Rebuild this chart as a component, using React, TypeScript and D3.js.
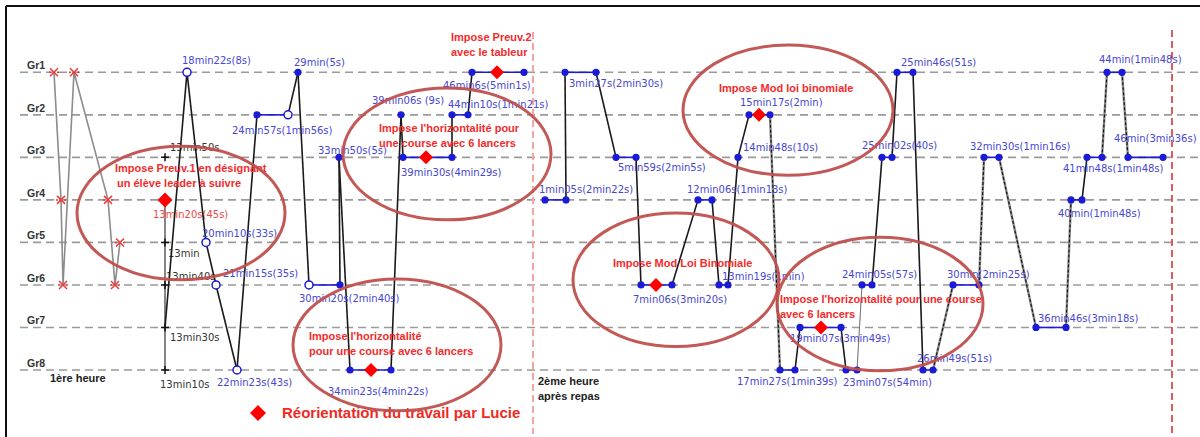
import React from "react";
import * as d3 from "d3";

// ---------- DATA ----------
const groups = ["Gr1", "Gr2", "Gr3", "Gr4", "Gr5", "Gr6", "Gr7", "Gr8"];

// first hour, gray trajectory marked with red crosses (timeline units, group)
const grayTrajX = [54, 61, 63, 74, 108, 115, 120];
const grayTrajG = ["Gr1", "Gr4", "Gr6", "Gr1", "Gr4", "Gr6", "Gr5"];

// 13 min reference axis
const refAxisX = 165;
const refTickGroups = ["Gr3", "Gr5", "Gr6", "Gr7", "Gr8"];
const refTickLabels = ["13min50s", "13min", "13min40s", "13min30s", "13min10s"];
const refDiamondGroup = "Gr4";
const refDiamondLabel = "13min20s(45s)";

type Station = { g: string; x0: number; x1: number; d?: number; m0: string; m1: string; label: string };

// first hour stations: o = open circle, f = filled dot, n = none
const hour1Stations: Station[] = [
  { g: "Gr7", x0: 165, x1: 165, m0: "n", m1: "n", label: "" },
  { g: "Gr1", x0: 187, x1: 187, m0: "o", m1: "o", label: "18min22s(8s)" },
  { g: "Gr5", x0: 206, x1: 206, m0: "o", m1: "o", label: "20min10s(33s)" },
  { g: "Gr6", x0: 216, x1: 216, m0: "o", m1: "o", label: "21min15s(35s)" },
  { g: "Gr8", x0: 237, x1: 237, m0: "o", m1: "o", label: "22min23s(43s)" },
  { g: "Gr2", x0: 257, x1: 288, m0: "f", m1: "o", label: "24min57s(1min56s)" },
  { g: "Gr1", x0: 298, x1: 298, m0: "f", m1: "f", label: "29min(5s)" },
  { g: "Gr6", x0: 309, x1: 340, m0: "o", m1: "f", label: "30min20s(2min40s)" },
  { g: "Gr3", x0: 339, x1: 339, m0: "f", m1: "f", label: "33min50s(5s)" },
  { g: "Gr8", x0: 350, x1: 391, d: 371, m0: "f", m1: "f", label: "34min23s(4min22s)" },
  { g: "Gr2", x0: 401, x1: 401, m0: "f", m1: "f", label: "39min06s (9s)" },
  { g: "Gr3", x0: 403, x1: 452, d: 426, m0: "f", m1: "f", label: "39min30s(4min29s)" },
  { g: "Gr2", x0: 452, x1: 468, m0: "f", m1: "f", label: "44min10s(1min21s)" },
  { g: "Gr1", x0: 472, x1: 524, d: 497, m0: "f", m1: "f", label: "46min6s(5min1s)" },
];

const hour2Stations: Station[] = [
  { g: "Gr4", x0: 545, x1: 566, m0: "f", m1: "f", label: "1min05s(2min22s)" },
  { g: "Gr1", x0: 565, x1: 596, m0: "f", m1: "f", label: "3min27s(2min30s)" },
  { g: "Gr3", x0: 616, x1: 636, m0: "f", m1: "f", label: "5min59s(2min5s)" },
  { g: "Gr6", x0: 641, x1: 672, d: 656, m0: "f", m1: "f", label: "7min06s(3min20s)" },
  { g: "Gr4", x0: 698, x1: 712, m0: "f", m1: "f", label: "12min06s(1min13s)" },
  { g: "Gr6", x0: 719, x1: 728, m0: "f", m1: "f", label: "13min19s(1min)" },
  { g: "Gr3", x0: 738, x1: 738, m0: "f", m1: "f", label: "14min48s(10s)" },
  { g: "Gr2", x0: 749, x1: 770, d: 759, m0: "f", m1: "f", label: "15min17s(2min)" },
  { g: "Gr8", x0: 780, x1: 795, m0: "f", m1: "f", label: "17min27s(1min39s)" },
  { g: "Gr7", x0: 800, x1: 841, d: 821, m0: "f", m1: "f", label: "19min07s(3min49s)" },
  { g: "Gr8", x0: 846, x1: 857, m0: "f", m1: "f", label: "23min07s(54min)" },
  { g: "Gr6", x0: 862, x1: 872, m0: "f", m1: "f", label: "24min05s(57s)" },
  { g: "Gr3", x0: 882, x1: 892, m0: "f", m1: "f", label: "25min02s(40s)" },
  { g: "Gr1", x0: 897, x1: 913, m0: "f", m1: "f", label: "25min46s(51s)" },
  { g: "Gr8", x0: 923, x1: 933, m0: "f", m1: "f", label: "26min49s(51s)" },
  { g: "Gr6", x0: 953, x1: 979, m0: "f", m1: "f", label: "30min(2min25s)" },
  { g: "Gr3", x0: 984, x1: 999, m0: "f", m1: "f", label: "32min30s(1min16s)" },
  { g: "Gr7", x0: 1036, x1: 1066, m0: "f", m1: "f", label: "36min46s(3min18s)" },
  { g: "Gr4", x0: 1071, x1: 1082, m0: "f", m1: "f", label: "40min(1min48s)" },
  { g: "Gr3", x0: 1087, x1: 1102, m0: "f", m1: "f", label: "41min48s(1min48s)" },
  { g: "Gr1", x0: 1107, x1: 1122, m0: "f", m1: "f", label: "44min(1min48s)" },
  { g: "Gr3", x0: 1128, x1: 1163, m0: "f", m1: "f", label: "46min(3min36s)" },
];

// annotations (Lucie's interventions)
const annotTexts = [
  ["Impose Preuv.2", "avec le tableur"],
  ["Impose Preuv.1 en désignant", "un élève leader à suivre"],
  ["Impose l'horizontalité pour", "une course avec 6 lancers"],
  ["Impose l'horizontalité", "pour une course avec 6 lancers"],
  ["Impose Mod loi binomiale"],
  ["Impose Mod Loi Binomiale"],
  ["Impose l'horizontalité pour une course", "avec 6 lancers"],
];
const sessionLabels = [["1ère heure"], ["2ème heure", "après repas"]];
const legendLabel = "Réorientation du travail par Lucie";

// ---------- LAYOUT (positions only) ----------
const hour1LabelPos: [number, number][] = [
  [0, 0], [182, -8], [202, -5], [223, -8], [217, 16], [232, 19], [294, -6],
  [299, 17], [318, -3], [328, 25], [372, -11], [401, 19], [448, -7], [443, 17],
];
const hour2LabelPos: [number, number][] = [
  [539, -7], [569, 15], [618, 14], [633, 18], [687, -7], [722, -5], [743, -6],
  [740, -9], [737, 15], [790, 15], [843, 16], [842, -7], [862, -8], [901, -6],
  [917, -8], [947, -7], [970, -7], [1038, -5], [1058, 17], [1063, 15], [1099, -9], [1114, -15],
];
// hour-2 links drawn with a dashed/doubled texture
const texturedLinks = new Set([7, 14, 15, 16, 17, 19, 20]);
const thinLinks = new Set([10]);

// annotation text anchor: [x, baseline group-index]
const annotPos: [number, number][] = [
  [451, -0.74], [115, 2.34], [379, 1.40], [309, 6.29], [719, 0.46], [613, 4.58], [780, 5.42],
];
// ellipses: [cx, cy (group index), rx, ry (group index)]
const ellipses: [number, number, number, number][] = [
  [181, 3.31, 104, 1.57], [447, 1.92, 104, 1.55], [397, 6.41, 104, 1.55],
  [788, 0.89, 105, 1.53], [676, 4.88, 103, 1.57], [880, 5.45, 103, 1.57],
];
const hourDividers = [533, 1172];

const W = 1200;
const H = 437;

export default function App() {
  const x = d3.scaleLinear().domain([0, 1200]).range([0, W]);
  const yIdx = d3.scaleLinear().domain([0, groups.length - 1]).range([72.3, 370]);
  const y = (g: string) => yIdx(groups.indexOf(g));
  const line = d3.line<[number, string]>().x((d) => x(d[0])).y((d) => y(d[1]));

  const blue = "#1b1bd6";
  const blueText = "#4646d4";
  const red = "#ff0000";
  const annotRed = "#f52b2b";
  const diamond = (s: number) => `M0,${-s}L${s},0L0,${s}L${-s},0Z`;

  const renderSeq = (st: Station[], pos: [number, number][], key: string, textured: Set<number>, thin: Set<number>) => {
    const links = st.slice(0, -1).map((s, i) => {
      const n = st[i + 1];
      const p = line([[s.x1, s.g], [n.x0, n.g]]) || "";
      if (textured.has(i)) {
        return (
          <g key={`${key}l${i}`}>
            <path d={p} stroke="#8a8a8a" strokeWidth={2.4} fill="none" />
            <path d={p} stroke="#111" strokeWidth={1.1} strokeDasharray="3 2" fill="none" />
          </g>
        );
      }
      return (
        <path key={`${key}l${i}`} d={p} stroke={thin.has(i) ? "#777" : "#1a1a1a"} strokeWidth={thin.has(i) ? 1.1 : 1.6} fill="none" />
      );
    });
    const segs = st
      .filter((s) => s.x1 > s.x0)
      .map((s, i) => (
        <line key={`${key}s${i}`} x1={x(s.x0)} x2={x(s.x1)} y1={y(s.g)} y2={y(s.g)} stroke={blue} strokeWidth={1.6} />
      ));
    const marks: JSX.Element[] = [];
    st.forEach((s, i) => {
      const ends: [number, string][] = s.x1 > s.x0 ? [[s.x0, s.m0], [s.x1, s.m1]] : [[s.x0, s.m0]];
      ends.forEach(([xx, m], j) => {
        if (m === "n") return;
        marks.push(
          m === "o" ? (
            <circle key={`${key}m${i}_${j}`} cx={x(xx)} cy={y(s.g)} r={4} fill="#fff" stroke={blue} strokeWidth={1.5} />
          ) : (
            <circle key={`${key}m${i}_${j}`} cx={x(xx)} cy={y(s.g)} r={3.6} fill={blue} />
          )
        );
      });
      if (s.d !== undefined) {
        marks.push(<path key={`${key}d${i}`} d={diamond(7)} transform={`translate(${x(s.d)},${y(s.g)})`} fill={red} />);
      }
    });
    const labels = st.map((s, i) =>
      s.label ? (
        <text key={`${key}t${i}`} x={x(pos[i][0])} y={y(s.g) + pos[i][1]} fill={blueText} fontSize={10} fontFamily="DejaVu Sans, sans-serif">
          {s.label}
        </text>
      ) : null
    );
    return { links, segs, marks, labels };
  };

  const h1 = renderSeq(hour1Stations, hour1LabelPos, "a", new Set(), new Set());
  const h2 = renderSeq(hour2Stations, hour2LabelPos, "b", texturedLinks, thinLinks);

  const grayPts: [number, string][] = grayTrajX.map((v, i) => [v, grayTrajG[i]]);

  return (
    <div>
      <style>{"body{margin:0;background:#fff}"}</style>
      <svg width={W} height={H} style={{ display: "block" }}>
        <rect x={0} y={0} width={W} height={H} fill="#fff" />
        {/* frame */}
        <line x1={6} x2={W} y1={6} y2={6} stroke="#111" strokeWidth={2} />
        <line x1={6} x2={6} y1={6} y2={H} stroke="#111" strokeWidth={2} />

        {/* gridlines */}
        {groups.map((g) => (
          <g key={g}>
            <line x1={20} x2={W} y1={y(g)} y2={y(g)} stroke="#9a9a9a" strokeWidth={1.6} strokeDasharray="8 5" />
            <text x={27} y={y(g) - 3} fontSize={10.5} fontWeight="bold" fill="#333" fontFamily="Liberation Sans, Arial, sans-serif">
              {g}
            </text>
          </g>
        ))}

        {/* hour dividers */}
        <line x1={x(hourDividers[0])} x2={x(hourDividers[0])} y1={32} y2={434} stroke="#f5a3a3" strokeWidth={2} strokeDasharray="7 4" />
        <line x1={x(hourDividers[1])} x2={x(hourDividers[1])} y1={30} y2={434} stroke="#e25a5a" strokeWidth={2} strokeDasharray="7 4" />

        {/* first hour gray trajectory */}
        <path d={line(grayPts) || ""} stroke="#8c8c8c" strokeWidth={1.6} fill="none" />
        {grayPts.map((p, i) => (
          <path
            key={`x${i}`}
            d="M-4,-4L4,4M-4,4L4,-4M-5,0L-3,0M3,0L5,0"
            transform={`translate(${x(p[0])},${y(p[1])})`}
            stroke="#f03a3a"
            strokeWidth={1.5}
            fill="none"
          />
        ))}

        {/* 13 min reference axis */}
        <line x1={x(refAxisX)} x2={x(refAxisX)} y1={y(refDiamondGroup)} y2={y("Gr8")} stroke="#444" strokeWidth={1.3} />
        {refTickGroups.map((g, i) => (
          <path key={`rt${i}`} d="M-4,0H4M0,-4V4" transform={`translate(${x(refAxisX)},${y(g)})`} stroke="#111" strokeWidth={1.5} />
        ))}
        {refTickLabels.map((t, i) => {
          const offs: [number, number][] = [[5, -6], [3, 15], [1, -5], [5, 14], [-5, 18]];
          return (
            <text key={`rl${i}`} x={x(refAxisX) + offs[i][0]} y={y(refTickGroups[i]) + offs[i][1]} fontSize={10} fill="#333" fontFamily="DejaVu Sans, sans-serif">
              {t}
            </text>
          );
        })}
        <path d={diamond(7.5)} transform={`translate(${x(refAxisX)},${y(refDiamondGroup)})`} fill={red} />
        <text x={x(refAxisX) - 12} y={y(refDiamondGroup) + 18} fontSize={10} fill="#f04848" fontFamily="DejaVu Sans, sans-serif">
          {refDiamondLabel}
        </text>

        {h1.links}
        {h2.links}
        {h1.segs}
        {h2.segs}
        {h1.marks}
        {h2.marks}
        {h1.labels}
        {h2.labels}

        {/* session labels */}
        <text x={50} y={382} fontSize={11} fontWeight="bold" fill="#222" fontFamily="Liberation Sans, Arial, sans-serif">
          {sessionLabels[0][0]}
        </text>
        {sessionLabels[1].map((t, i) => (
          <text key={`sl${i}`} x={538} y={385 + i * 15} fontSize={11} fontWeight="bold" fill="#222" fontFamily="Liberation Sans, Arial, sans-serif">
            {t}
          </text>
        ))}

        {/* annotations */}
        {annotTexts.map((lines, i) => (
          <text key={`an${i}`} fontSize={11} fontWeight="bold" fill={annotRed} fontFamily="Liberation Sans, Arial, sans-serif">
            {lines.map((l, j) => (
              <tspan key={j} x={x(annotPos[i][0]) + (i === 1 ? j * 2 : 0)} y={yIdx(annotPos[i][1]) + j * 15.5}>
                {l}
              </tspan>
            ))}
          </text>
        ))}

        {/* legend */}
        <path d={diamond(8)} transform="translate(258,413)" fill={red} />
        <text x={282} y={418} fontSize={15} fontWeight="bold" fill="#ee2a22" fontFamily="Liberation Sans, Arial, sans-serif">
          {legendLabel}
        </text>

        {/* ellipses */}
        {ellipses.map((e, i) => (
          <ellipse
            key={`el${i}`}
            cx={x(e[0])}
            cy={yIdx(e[1])}
            rx={x(e[2]) - x(0)}
            ry={yIdx(e[3]) - yIdx(0)}
            fill="none"
            stroke="#c0504d"
            strokeWidth={3}
            opacity={0.95}
          />
        ))}
      </svg>
    </div>
  );
}
